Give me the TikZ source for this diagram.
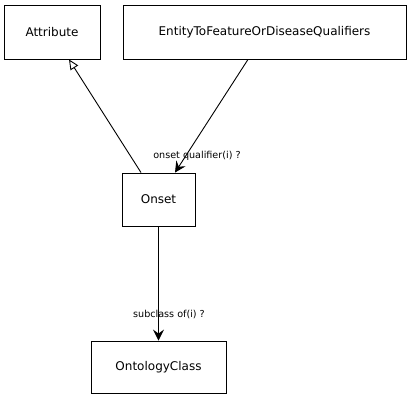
\documentclass[tikz,border=0pt]{standalone}
\usepackage{fontspec}
\setmainfont{DejaVu Sans}
\usetikzlibrary{arrows.meta}
\begin{document}
\begin{tikzpicture}[x=1pt,y=1pt,
  cls/.style={draw, line width=0.9pt, rectangle, inner sep=0pt, font=\fontsize{12}{14}\selectfont},
  lbl/.style={font=\fontsize{9.6}{11}\selectfont, inner sep=0pt},
  conn/.style={line width=0.9pt},
  gen/.style={conn, -{Triangle[open, length=10pt, width=9pt]}},
  assoc/.style={conn, -{Stealth[length=11pt, width=11pt, inset=4pt]}}]
\useasboundingbox (0,0) rectangle (411,400);
\node[cls, minimum width=96pt, minimum height=54pt] (attr) at (52,368) {Attribute};
\node[cls, minimum width=283pt, minimum height=54pt] (ent) at (264.5,368) {EntityToFeatureOrDiseaseQualifiers};
\node[cls, minimum width=73pt, minimum height=53pt] (onset) at (158.5,200.5) {Onset};
\node[cls, minimum width=135pt, minimum height=52pt] (onto) at (158.5,33) {OntologyClass};
\coordinate (a1) at (141,227);
\coordinate (a2) at (69,341);
\coordinate (b1) at (248,341);
\coordinate (b2) at (175,227);
\draw[gen] (onset.north -| a1) -- (attr.south -| a2);
\draw[assoc] (ent.south -| b1) -- (onset.north -| b2);
\draw[assoc] (onset.south) -- (onto.north);
\node[lbl] (l1) at (197,244) {onset qualifier(i) ?};
\node[lbl] (l2) at (169,86) {subclass of(i) ?};
\end{tikzpicture}
\end{document}
